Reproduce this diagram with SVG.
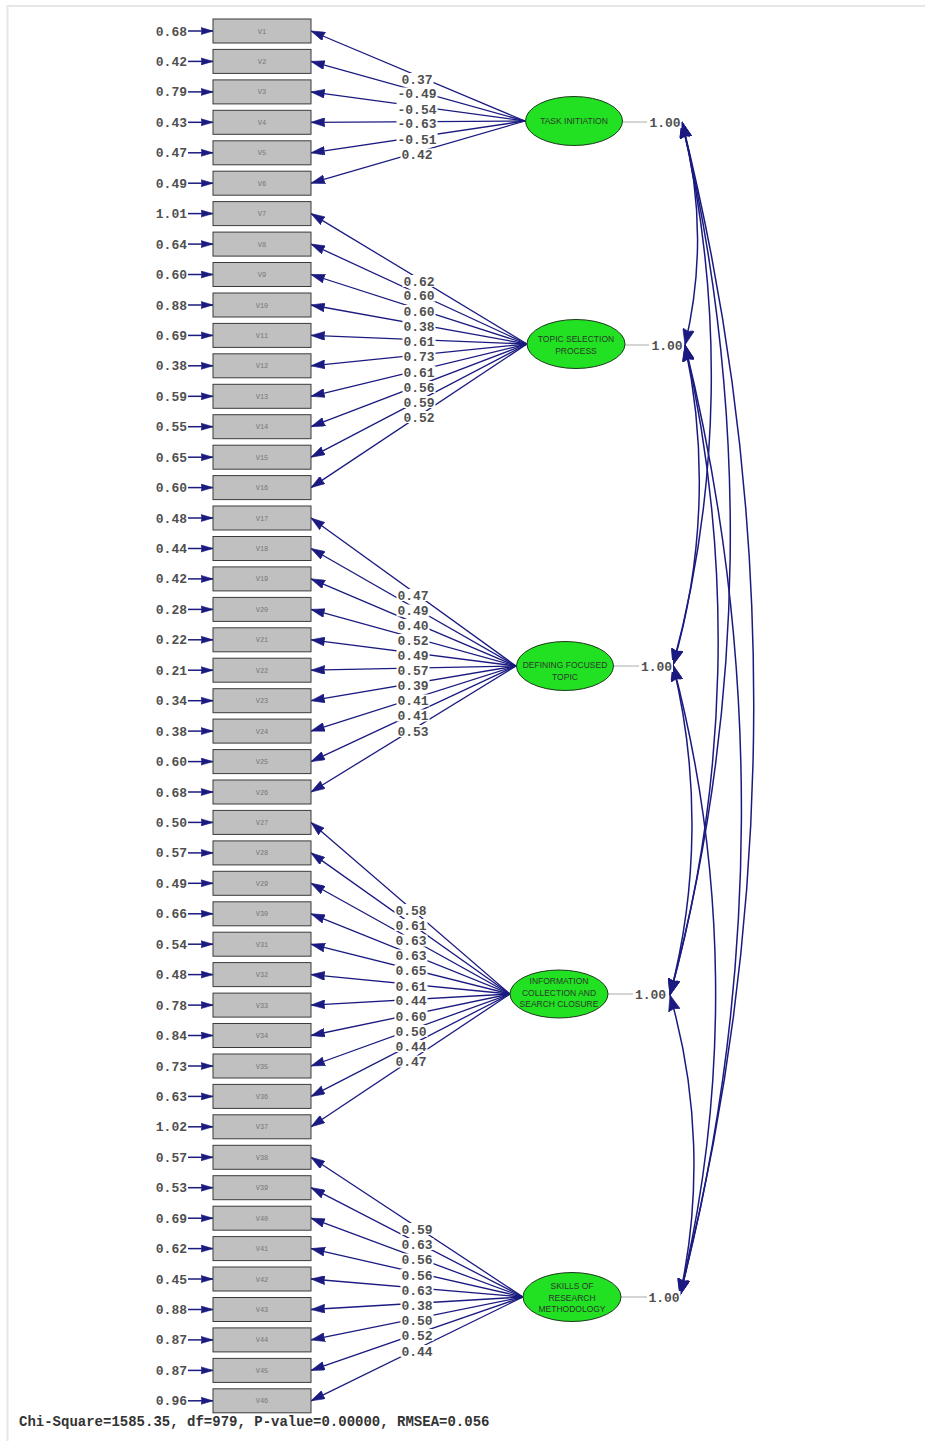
<svg xmlns="http://www.w3.org/2000/svg" width="925" height="1441" viewBox="0 0 925 1441">
<style>
.obs{fill:#c0c0c0;stroke:#3a3a3a;stroke-width:1}
.vl{font-family:"Liberation Mono",monospace;font-size:7px;fill:#777;text-anchor:middle}
.num{font-family:"Liberation Mono",monospace;font-size:13px;font-weight:bold;fill:#505050}
.err{text-anchor:end}
.lab{text-anchor:middle}
.lat{fill:#22e022;stroke:#1e3a1e;stroke-width:1}
.lt{font-family:"Liberation Sans",Arial,sans-serif;font-size:8.5px;fill:#2a3a2a;text-anchor:middle}
.ld line{stroke:#1a1a80;stroke-width:1.3;marker-end:url(#ah)}
.er line{stroke:#1a1a80;stroke-width:1.5;marker-end:url(#ahs)}
.cv path{fill:none;stroke:#1a1a80;stroke-width:1.5;marker-start:url(#ahc);marker-end:url(#ahc)}
.vr line{stroke:#aaaaaa;stroke-width:1}
.chi{font-family:"Liberation Mono",monospace;font-size:14px;font-weight:bold;fill:#333}
</style>
<defs>
<rect id="b4" width="33" height="12" fill="#ffffff"/>
<rect id="b5" width="41" height="12" fill="#ffffff"/>
<marker id="ah" viewBox="0 0 14 9" refX="14" refY="4.5" markerWidth="14" markerHeight="9" markerUnits="userSpaceOnUse" orient="auto"><path d="M0,0 L14,4.5 L0,9 L1,4.5 z" fill="#1a1a80" stroke="#1a1a80" stroke-width="0.6"/></marker>
<marker id="ahs" viewBox="0 0 12 8" refX="12" refY="4" markerWidth="12" markerHeight="8" markerUnits="userSpaceOnUse" orient="auto"><path d="M0,0.5 L12,4 L0,7.5 L1,4 z" fill="#1a1a80" stroke="#1a1a80" stroke-width="0.6"/></marker>
<marker id="ahc" viewBox="0 0 16 12" refX="16" refY="6" markerWidth="16" markerHeight="12" markerUnits="userSpaceOnUse" orient="auto-start-reverse"><path d="M0,0 L16,6 L0,12 L2,6 z" fill="#1a1a80" stroke="#1a1a80" stroke-width="0.6"/></marker>
</defs>
<rect x="0" y="0" width="925" height="1441" fill="#ffffff"/>
<g id="frame" stroke="#e6e6e6" stroke-width="2" fill="none"><path d="M7.5,1441 V6 H925"/></g>

<g id="connectors">
<g class="er">
<line x1="188" y1="31.0" x2="213" y2="31.0"/><line x1="188" y1="61.4" x2="213" y2="61.4"/><line x1="188" y1="91.9" x2="213" y2="91.9"/><line x1="188" y1="122.3" x2="213" y2="122.3"/><line x1="188" y1="152.8" x2="213" y2="152.8"/><line x1="188" y1="183.2" x2="213" y2="183.2"/><line x1="188" y1="213.6" x2="213" y2="213.6"/><line x1="188" y1="244.1" x2="213" y2="244.1"/><line x1="188" y1="274.5" x2="213" y2="274.5"/><line x1="188" y1="305.0" x2="213" y2="305.0"/><line x1="188" y1="335.4" x2="213" y2="335.4"/><line x1="188" y1="365.8" x2="213" y2="365.8"/><line x1="188" y1="396.3" x2="213" y2="396.3"/><line x1="188" y1="426.7" x2="213" y2="426.7"/><line x1="188" y1="457.2" x2="213" y2="457.2"/><line x1="188" y1="487.6" x2="213" y2="487.6"/><line x1="188" y1="518.0" x2="213" y2="518.0"/><line x1="188" y1="548.5" x2="213" y2="548.5"/><line x1="188" y1="578.9" x2="213" y2="578.9"/><line x1="188" y1="609.4" x2="213" y2="609.4"/><line x1="188" y1="639.8" x2="213" y2="639.8"/><line x1="188" y1="670.2" x2="213" y2="670.2"/><line x1="188" y1="700.7" x2="213" y2="700.7"/><line x1="188" y1="731.1" x2="213" y2="731.1"/><line x1="188" y1="761.6" x2="213" y2="761.6"/><line x1="188" y1="792.0" x2="213" y2="792.0"/><line x1="188" y1="822.4" x2="213" y2="822.4"/><line x1="188" y1="852.9" x2="213" y2="852.9"/><line x1="188" y1="883.3" x2="213" y2="883.3"/><line x1="188" y1="913.8" x2="213" y2="913.8"/><line x1="188" y1="944.2" x2="213" y2="944.2"/><line x1="188" y1="974.6" x2="213" y2="974.6"/><line x1="188" y1="1005.1" x2="213" y2="1005.1"/><line x1="188" y1="1035.5" x2="213" y2="1035.5"/><line x1="188" y1="1066.0" x2="213" y2="1066.0"/><line x1="188" y1="1096.4" x2="213" y2="1096.4"/><line x1="188" y1="1126.8" x2="213" y2="1126.8"/><line x1="188" y1="1157.3" x2="213" y2="1157.3"/><line x1="188" y1="1187.7" x2="213" y2="1187.7"/><line x1="188" y1="1218.2" x2="213" y2="1218.2"/><line x1="188" y1="1248.6" x2="213" y2="1248.6"/><line x1="188" y1="1279.0" x2="213" y2="1279.0"/><line x1="188" y1="1309.5" x2="213" y2="1309.5"/><line x1="188" y1="1339.9" x2="213" y2="1339.9"/><line x1="188" y1="1370.4" x2="213" y2="1370.4"/><line x1="188" y1="1400.8" x2="213" y2="1400.8"/>
</g>
<g class="ld">
<line x1="525" y1="121" x2="311" y2="31.0"/><line x1="525" y1="121" x2="311" y2="61.4"/><line x1="525" y1="121" x2="311" y2="91.9"/><line x1="525" y1="121" x2="311" y2="122.3"/><line x1="525" y1="121" x2="311" y2="152.8"/><line x1="525" y1="121" x2="311" y2="183.2"/>
<line x1="527" y1="344" x2="311" y2="213.6"/><line x1="527" y1="344" x2="311" y2="244.1"/><line x1="527" y1="344" x2="311" y2="274.5"/><line x1="527" y1="344" x2="311" y2="305.0"/><line x1="527" y1="344" x2="311" y2="335.4"/><line x1="527" y1="344" x2="311" y2="365.8"/><line x1="527" y1="344" x2="311" y2="396.3"/><line x1="527" y1="344" x2="311" y2="426.7"/><line x1="527" y1="344" x2="311" y2="457.2"/><line x1="527" y1="344" x2="311" y2="487.6"/>
<line x1="516" y1="666" x2="311" y2="518.0"/><line x1="516" y1="666" x2="311" y2="548.5"/><line x1="516" y1="666" x2="311" y2="578.9"/><line x1="516" y1="666" x2="311" y2="609.4"/><line x1="516" y1="666" x2="311" y2="639.8"/><line x1="516" y1="666" x2="311" y2="670.2"/><line x1="516" y1="666" x2="311" y2="700.7"/><line x1="516" y1="666" x2="311" y2="731.1"/><line x1="516" y1="666" x2="311" y2="761.6"/><line x1="516" y1="666" x2="311" y2="792.0"/>
<line x1="510" y1="994" x2="311" y2="822.4"/><line x1="510" y1="994" x2="311" y2="852.9"/><line x1="510" y1="994" x2="311" y2="883.3"/><line x1="510" y1="994" x2="311" y2="913.8"/><line x1="510" y1="994" x2="311" y2="944.2"/><line x1="510" y1="994" x2="311" y2="974.6"/><line x1="510" y1="994" x2="311" y2="1005.1"/><line x1="510" y1="994" x2="311" y2="1035.5"/><line x1="510" y1="994" x2="311" y2="1066.0"/><line x1="510" y1="994" x2="311" y2="1096.4"/><line x1="510" y1="994" x2="311" y2="1126.8"/>
<line x1="523" y1="1297" x2="311" y2="1157.3"/><line x1="523" y1="1297" x2="311" y2="1187.7"/><line x1="523" y1="1297" x2="311" y2="1218.2"/><line x1="523" y1="1297" x2="311" y2="1248.6"/><line x1="523" y1="1297" x2="311" y2="1279.0"/><line x1="523" y1="1297" x2="311" y2="1309.5"/><line x1="523" y1="1297" x2="311" y2="1339.9"/><line x1="523" y1="1297" x2="311" y2="1370.4"/><line x1="523" y1="1297" x2="311" y2="1400.8"/>
</g>
<g class="vr">
<line x1="623" y1="122" x2="647" y2="122"/><line x1="625" y1="345" x2="649" y2="345"/><line x1="613" y1="666" x2="639" y2="666"/><line x1="608" y1="994" x2="633" y2="994"/><line x1="621" y1="1297" x2="647" y2="1297"/>
</g>
<g class="cv">
<path d="M682,122 A457,457 0 0 1 685,345"/>
<path d="M682,122 A1112,1112 0 0 1 673,665"/>
<path d="M682,122 A1787,1787 0 0 1 670,995"/>
<path d="M682,122 A2401,2401 0 0 1 680,1295"/>
<path d="M685,345 A655,655 0 0 1 673,665"/>
<path d="M685,345 A1331,1331 0 0 1 670,995"/>
<path d="M685,345 A1945,1945 0 0 1 680,1295"/>
<path d="M673,665 A676,676 0 0 1 670,995"/>
<path d="M673,665 A1290,1290 0 0 1 680,1295"/>
<path d="M670,995 A614,614 0 0 1 680,1295"/>
</g>
<g id="label-backgrounds">
<use href="#b4" x="400.5" y="73"/><use href="#b5" x="396.5" y="87.5"/><use href="#b5" x="396.5" y="103"/><use href="#b5" x="396.5" y="117.5"/><use href="#b5" x="396.5" y="133"/><use href="#b4" x="400.5" y="148.5"/>
<use href="#b4" x="402.5" y="275"/><use href="#b4" x="402.5" y="289.5"/><use href="#b4" x="402.5" y="305"/><use href="#b4" x="402.5" y="320"/><use href="#b4" x="402.5" y="335"/><use href="#b4" x="402.5" y="350"/><use href="#b4" x="402.5" y="366"/><use href="#b4" x="402.5" y="381"/><use href="#b4" x="402.5" y="396"/><use href="#b4" x="402.5" y="411"/>
<use href="#b4" x="396.5" y="589"/><use href="#b4" x="396.5" y="604.5"/><use href="#b4" x="396.5" y="619"/><use href="#b4" x="396.5" y="634"/><use href="#b4" x="396.5" y="649"/><use href="#b4" x="396.5" y="664"/><use href="#b4" x="396.5" y="679.5"/><use href="#b4" x="396.5" y="694.5"/><use href="#b4" x="396.5" y="709.5"/><use href="#b4" x="396.5" y="725"/>
<use href="#b4" x="394.5" y="904"/><use href="#b4" x="394.5" y="919"/><use href="#b4" x="394.5" y="934.5"/><use href="#b4" x="394.5" y="949.5"/><use href="#b4" x="394.5" y="964.5"/><use href="#b4" x="394.5" y="980"/><use href="#b4" x="394.5" y="994.5"/><use href="#b4" x="394.5" y="1010"/><use href="#b4" x="394.5" y="1025"/><use href="#b4" x="394.5" y="1040"/><use href="#b4" x="394.5" y="1055.5"/>
<use href="#b4" x="400.5" y="1223"/><use href="#b4" x="400.5" y="1238"/><use href="#b4" x="400.5" y="1253.5"/><use href="#b4" x="400.5" y="1269"/><use href="#b4" x="400.5" y="1284"/><use href="#b4" x="400.5" y="1299"/><use href="#b4" x="400.5" y="1314"/><use href="#b4" x="400.5" y="1329"/><use href="#b4" x="400.5" y="1345"/>
<use href="#b4" x="648.5" y="116"/><use href="#b4" x="650.5" y="339"/><use href="#b4" x="640" y="660"/><use href="#b4" x="634" y="988"/><use href="#b4" x="647.5" y="1291"/>
</g>
<g id="loading-labels" class="num">
<text class="lab" x="417" y="83.5">0.37</text><text class="lab" x="417" y="98">-0.49</text><text class="lab" x="417" y="113.5">-0.54</text><text class="lab" x="417" y="128">-0.63</text><text class="lab" x="417" y="143.5">-0.51</text><text class="lab" x="417" y="159">0.42</text>
<text class="lab" x="419" y="285.5">0.62</text><text class="lab" x="419" y="300">0.60</text><text class="lab" x="419" y="315.5">0.60</text><text class="lab" x="419" y="330.5">0.38</text><text class="lab" x="419" y="345.5">0.61</text><text class="lab" x="419" y="360.5">0.73</text><text class="lab" x="419" y="376.5">0.61</text><text class="lab" x="419" y="391.5">0.56</text><text class="lab" x="419" y="406.5">0.59</text><text class="lab" x="419" y="421.5">0.52</text>
<text class="lab" x="413" y="599.5">0.47</text><text class="lab" x="413" y="615">0.49</text><text class="lab" x="413" y="629.5">0.40</text><text class="lab" x="413" y="644.5">0.52</text><text class="lab" x="413" y="659.5">0.49</text><text class="lab" x="413" y="674.5">0.57</text><text class="lab" x="413" y="690">0.39</text><text class="lab" x="413" y="705">0.41</text><text class="lab" x="413" y="720">0.41</text><text class="lab" x="413" y="735.5">0.53</text>
<text class="lab" x="411" y="914.5">0.58</text><text class="lab" x="411" y="929.5">0.61</text><text class="lab" x="411" y="945">0.63</text><text class="lab" x="411" y="960">0.63</text><text class="lab" x="411" y="975">0.65</text><text class="lab" x="411" y="990.5">0.61</text><text class="lab" x="411" y="1005">0.44</text><text class="lab" x="411" y="1020.5">0.60</text><text class="lab" x="411" y="1035.5">0.50</text><text class="lab" x="411" y="1050.5">0.44</text><text class="lab" x="411" y="1066">0.47</text>
<text class="lab" x="417" y="1233.5">0.59</text><text class="lab" x="417" y="1248.5">0.63</text><text class="lab" x="417" y="1264">0.56</text><text class="lab" x="417" y="1279.5">0.56</text><text class="lab" x="417" y="1294.5">0.63</text><text class="lab" x="417" y="1309.5">0.38</text><text class="lab" x="417" y="1324.5">0.50</text><text class="lab" x="417" y="1339.5">0.52</text><text class="lab" x="417" y="1355.5">0.44</text>
</g>
<g id="variance-labels" class="num">
<text class="lab" x="665" y="126.5">1.00</text><text class="lab" x="667" y="349.5">1.00</text><text class="lab" x="656.5" y="670.5">1.00</text><text class="lab" x="650.5" y="998.5">1.00</text><text class="lab" x="664" y="1301.5">1.00</text>
</g>
</g>

<g id="F1"><ellipse class="lat" cx="574" cy="121" rx="48.5" ry="24.5"/><text class="lt" x="574" y="124">TASK INITIATION</text></g>
<g id="F2"><ellipse class="lat" cx="576" cy="344" rx="49" ry="24.5"/><text class="lt" x="576" y="342">TOPIC SELECTION</text><text class="lt" x="576" y="354">PROCESS</text></g>
<g id="F3"><ellipse class="lat" cx="565" cy="666" rx="48.5" ry="24.5"/><text class="lt" x="565" y="668">DEFINING FOCUSED</text><text class="lt" x="565" y="680">TOPIC</text></g>
<g id="F4"><ellipse class="lat" cx="559" cy="994" rx="49" ry="24"/><text class="lt" x="559" y="984">INFORMATION</text><text class="lt" x="559" y="995.5">COLLECTION AND</text><text class="lt" x="559" y="1007">SEARCH CLOSURE</text></g>
<g id="F5"><ellipse class="lat" cx="572" cy="1297" rx="49" ry="24.5"/><text class="lt" x="572" y="1289">SKILLS OF</text><text class="lt" x="572" y="1300.5">RESEARCH</text><text class="lt" x="572" y="1312">METHODOLOGY</text></g>

<g id="V1" transform="translate(0,31.0)"><rect class="obs" x="213" y="-12" width="98" height="24"/><text class="vl" x="262" y="2.5">V1</text><text class="num err" x="187" y="4.5">0.68</text></g>
<g id="V2" transform="translate(0,61.4)"><rect class="obs" x="213" y="-12" width="98" height="24"/><text class="vl" x="262" y="2.5">V2</text><text class="num err" x="187" y="4.5">0.42</text></g>
<g id="V3" transform="translate(0,91.9)"><rect class="obs" x="213" y="-12" width="98" height="24"/><text class="vl" x="262" y="2.5">V3</text><text class="num err" x="187" y="4.5">0.79</text></g>
<g id="V4" transform="translate(0,122.3)"><rect class="obs" x="213" y="-12" width="98" height="24"/><text class="vl" x="262" y="2.5">V4</text><text class="num err" x="187" y="4.5">0.43</text></g>
<g id="V5" transform="translate(0,152.8)"><rect class="obs" x="213" y="-12" width="98" height="24"/><text class="vl" x="262" y="2.5">V5</text><text class="num err" x="187" y="4.5">0.47</text></g>
<g id="V6" transform="translate(0,183.2)"><rect class="obs" x="213" y="-12" width="98" height="24"/><text class="vl" x="262" y="2.5">V6</text><text class="num err" x="187" y="4.5">0.49</text></g>
<g id="V7" transform="translate(0,213.6)"><rect class="obs" x="213" y="-12" width="98" height="24"/><text class="vl" x="262" y="2.5">V7</text><text class="num err" x="187" y="4.5">1.01</text></g>
<g id="V8" transform="translate(0,244.1)"><rect class="obs" x="213" y="-12" width="98" height="24"/><text class="vl" x="262" y="2.5">V8</text><text class="num err" x="187" y="4.5">0.64</text></g>
<g id="V9" transform="translate(0,274.5)"><rect class="obs" x="213" y="-12" width="98" height="24"/><text class="vl" x="262" y="2.5">V9</text><text class="num err" x="187" y="4.5">0.60</text></g>
<g id="V10" transform="translate(0,305.0)"><rect class="obs" x="213" y="-12" width="98" height="24"/><text class="vl" x="262" y="2.5">V10</text><text class="num err" x="187" y="4.5">0.88</text></g>
<g id="V11" transform="translate(0,335.4)"><rect class="obs" x="213" y="-12" width="98" height="24"/><text class="vl" x="262" y="2.5">V11</text><text class="num err" x="187" y="4.5">0.69</text></g>
<g id="V12" transform="translate(0,365.8)"><rect class="obs" x="213" y="-12" width="98" height="24"/><text class="vl" x="262" y="2.5">V12</text><text class="num err" x="187" y="4.5">0.38</text></g>
<g id="V13" transform="translate(0,396.3)"><rect class="obs" x="213" y="-12" width="98" height="24"/><text class="vl" x="262" y="2.5">V13</text><text class="num err" x="187" y="4.5">0.59</text></g>
<g id="V14" transform="translate(0,426.7)"><rect class="obs" x="213" y="-12" width="98" height="24"/><text class="vl" x="262" y="2.5">V14</text><text class="num err" x="187" y="4.5">0.55</text></g>
<g id="V15" transform="translate(0,457.2)"><rect class="obs" x="213" y="-12" width="98" height="24"/><text class="vl" x="262" y="2.5">V15</text><text class="num err" x="187" y="4.5">0.65</text></g>
<g id="V16" transform="translate(0,487.6)"><rect class="obs" x="213" y="-12" width="98" height="24"/><text class="vl" x="262" y="2.5">V16</text><text class="num err" x="187" y="4.5">0.60</text></g>
<g id="V17" transform="translate(0,518.0)"><rect class="obs" x="213" y="-12" width="98" height="24"/><text class="vl" x="262" y="2.5">V17</text><text class="num err" x="187" y="4.5">0.48</text></g>
<g id="V18" transform="translate(0,548.5)"><rect class="obs" x="213" y="-12" width="98" height="24"/><text class="vl" x="262" y="2.5">V18</text><text class="num err" x="187" y="4.5">0.44</text></g>
<g id="V19" transform="translate(0,578.9)"><rect class="obs" x="213" y="-12" width="98" height="24"/><text class="vl" x="262" y="2.5">V19</text><text class="num err" x="187" y="4.5">0.42</text></g>
<g id="V20" transform="translate(0,609.4)"><rect class="obs" x="213" y="-12" width="98" height="24"/><text class="vl" x="262" y="2.5">V20</text><text class="num err" x="187" y="4.5">0.28</text></g>
<g id="V21" transform="translate(0,639.8)"><rect class="obs" x="213" y="-12" width="98" height="24"/><text class="vl" x="262" y="2.5">V21</text><text class="num err" x="187" y="4.5">0.22</text></g>
<g id="V22" transform="translate(0,670.2)"><rect class="obs" x="213" y="-12" width="98" height="24"/><text class="vl" x="262" y="2.5">V22</text><text class="num err" x="187" y="4.5">0.21</text></g>
<g id="V23" transform="translate(0,700.7)"><rect class="obs" x="213" y="-12" width="98" height="24"/><text class="vl" x="262" y="2.5">V23</text><text class="num err" x="187" y="4.5">0.34</text></g>
<g id="V24" transform="translate(0,731.1)"><rect class="obs" x="213" y="-12" width="98" height="24"/><text class="vl" x="262" y="2.5">V24</text><text class="num err" x="187" y="4.5">0.38</text></g>
<g id="V25" transform="translate(0,761.6)"><rect class="obs" x="213" y="-12" width="98" height="24"/><text class="vl" x="262" y="2.5">V25</text><text class="num err" x="187" y="4.5">0.60</text></g>
<g id="V26" transform="translate(0,792.0)"><rect class="obs" x="213" y="-12" width="98" height="24"/><text class="vl" x="262" y="2.5">V26</text><text class="num err" x="187" y="4.5">0.68</text></g>
<g id="V27" transform="translate(0,822.4)"><rect class="obs" x="213" y="-12" width="98" height="24"/><text class="vl" x="262" y="2.5">V27</text><text class="num err" x="187" y="4.5">0.50</text></g>
<g id="V28" transform="translate(0,852.9)"><rect class="obs" x="213" y="-12" width="98" height="24"/><text class="vl" x="262" y="2.5">V28</text><text class="num err" x="187" y="4.5">0.57</text></g>
<g id="V29" transform="translate(0,883.3)"><rect class="obs" x="213" y="-12" width="98" height="24"/><text class="vl" x="262" y="2.5">V29</text><text class="num err" x="187" y="4.5">0.49</text></g>
<g id="V30" transform="translate(0,913.8)"><rect class="obs" x="213" y="-12" width="98" height="24"/><text class="vl" x="262" y="2.5">V30</text><text class="num err" x="187" y="4.5">0.66</text></g>
<g id="V31" transform="translate(0,944.2)"><rect class="obs" x="213" y="-12" width="98" height="24"/><text class="vl" x="262" y="2.5">V31</text><text class="num err" x="187" y="4.5">0.54</text></g>
<g id="V32" transform="translate(0,974.6)"><rect class="obs" x="213" y="-12" width="98" height="24"/><text class="vl" x="262" y="2.5">V32</text><text class="num err" x="187" y="4.5">0.48</text></g>
<g id="V33" transform="translate(0,1005.1)"><rect class="obs" x="213" y="-12" width="98" height="24"/><text class="vl" x="262" y="2.5">V33</text><text class="num err" x="187" y="4.5">0.78</text></g>
<g id="V34" transform="translate(0,1035.5)"><rect class="obs" x="213" y="-12" width="98" height="24"/><text class="vl" x="262" y="2.5">V34</text><text class="num err" x="187" y="4.5">0.84</text></g>
<g id="V35" transform="translate(0,1066.0)"><rect class="obs" x="213" y="-12" width="98" height="24"/><text class="vl" x="262" y="2.5">V35</text><text class="num err" x="187" y="4.5">0.73</text></g>
<g id="V36" transform="translate(0,1096.4)"><rect class="obs" x="213" y="-12" width="98" height="24"/><text class="vl" x="262" y="2.5">V36</text><text class="num err" x="187" y="4.5">0.63</text></g>
<g id="V37" transform="translate(0,1126.8)"><rect class="obs" x="213" y="-12" width="98" height="24"/><text class="vl" x="262" y="2.5">V37</text><text class="num err" x="187" y="4.5">1.02</text></g>
<g id="V38" transform="translate(0,1157.3)"><rect class="obs" x="213" y="-12" width="98" height="24"/><text class="vl" x="262" y="2.5">V38</text><text class="num err" x="187" y="4.5">0.57</text></g>
<g id="V39" transform="translate(0,1187.7)"><rect class="obs" x="213" y="-12" width="98" height="24"/><text class="vl" x="262" y="2.5">V39</text><text class="num err" x="187" y="4.5">0.53</text></g>
<g id="V40" transform="translate(0,1218.2)"><rect class="obs" x="213" y="-12" width="98" height="24"/><text class="vl" x="262" y="2.5">V40</text><text class="num err" x="187" y="4.5">0.69</text></g>
<g id="V41" transform="translate(0,1248.6)"><rect class="obs" x="213" y="-12" width="98" height="24"/><text class="vl" x="262" y="2.5">V41</text><text class="num err" x="187" y="4.5">0.62</text></g>
<g id="V42" transform="translate(0,1279.0)"><rect class="obs" x="213" y="-12" width="98" height="24"/><text class="vl" x="262" y="2.5">V42</text><text class="num err" x="187" y="4.5">0.45</text></g>
<g id="V43" transform="translate(0,1309.5)"><rect class="obs" x="213" y="-12" width="98" height="24"/><text class="vl" x="262" y="2.5">V43</text><text class="num err" x="187" y="4.5">0.88</text></g>
<g id="V44" transform="translate(0,1339.9)"><rect class="obs" x="213" y="-12" width="98" height="24"/><text class="vl" x="262" y="2.5">V44</text><text class="num err" x="187" y="4.5">0.87</text></g>
<g id="V45" transform="translate(0,1370.4)"><rect class="obs" x="213" y="-12" width="98" height="24"/><text class="vl" x="262" y="2.5">V45</text><text class="num err" x="187" y="4.5">0.87</text></g>
<g id="V46" transform="translate(0,1400.8)"><rect class="obs" x="213" y="-12" width="98" height="24"/><text class="vl" x="262" y="2.5">V46</text><text class="num err" x="187" y="4.5">0.96</text></g>

<text id="fit" class="chi" x="19" y="1426">Chi-Square=1585.35, df=979, P-value=0.00000, RMSEA=0.056</text>
</svg>
